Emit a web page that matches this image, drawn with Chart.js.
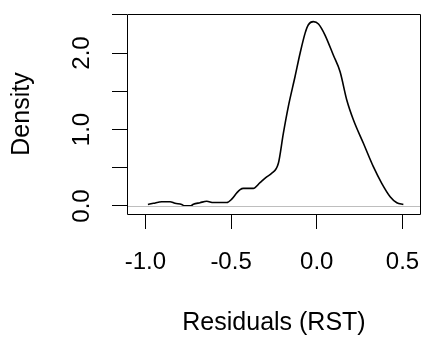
<!DOCTYPE html>
<html>
<head>
<meta charset="utf-8">
<script src="https://cdn.jsdelivr.net/npm/chart.js@4"></script>
<style>
  html, body { margin: 0; padding: 0; background: #fff; overflow: hidden; }
  #wrap { width: 422px; height: 342px; }
</style>
</head>
<body>
<div id="wrap"><canvas id="chart" width="422" height="342"></canvas></div>
<script>
// density of residuals
const residX = [-0.985, -0.953, -0.904, -0.856, -0.827, -0.788, -0.772, -0.735, -0.72, -0.681,
  -0.642, -0.603, -0.565, -0.525, -0.496, -0.467, -0.447, -0.428, -0.37, -0.331,
  -0.292, -0.263, -0.224, -0.195, -0.166, -0.127, -0.097, -0.068, -0.049, -0.02,
  0.01, 0.048, 0.097, 0.136, 0.175, 0.214, 0.272, 0.33, 0.379, 0.428, 0.467, 0.505]
const density = [0.02, 0.035, 0.056, 0.056, 0.035, 0.02, 0.003, 0.003, 0.022, 0.043,
  0.062, 0.045, 0.045, 0.045, 0.09, 0.17, 0.215, 0.23, 0.23, 0.305,
  0.38, 0.427, 0.558, 0.95, 1.3, 1.69, 2.0, 2.26, 2.37, 2.41,
  2.38, 2.235, 1.97, 1.755, 1.386, 1.124, 0.82, 0.514, 0.297, 0.122, 0.043, 0.02]

const xTicks = [-1, -0.5, 0, 0.5]
const yTicks = [0, 0.5, 1, 1.5, 2, 2.5]
const yLabels = [0, 1, 2]

const font = "'Liberation Sans', Arial, sans-serif"

// R style: box, gray zero line, rotated y labels
const rAxes = {
  id: "rAxes",
  afterDatasetsDraw(chart) {
    const { ctx, chartArea: a, scales: { y } } = chart
    ctx.save()
    const y0 = Math.round(y.getPixelForValue(0)) + 0.5
    ctx.strokeStyle = "#bebebe"
    ctx.lineWidth = 1
    ctx.beginPath()
    ctx.moveTo(a.left, y0)
    ctx.lineTo(a.right, y0)
    ctx.stroke()
    const l = 127.5, r = 420.5, t = 14.5, b = 214.5
    ctx.strokeStyle = "#000"
    ctx.beginPath()
    ctx.moveTo(l, t)
    ctx.lineTo(r, t)
    ctx.lineTo(r, b)
    ctx.lineTo(l, b)
    ctx.closePath()
    ctx.stroke()
    ctx.fillStyle = "#000"
    ctx.font = `24px ${font}`
    ctx.textAlign = "center"
    ctx.textBaseline = "alphabetic"
    yLabels.forEach((v) => {
      ctx.save()
      ctx.translate(89, y.getPixelForValue(v))
      ctx.rotate(-Math.PI / 2)
      ctx.fillText(v.toFixed(1), 0, 0)
      ctx.restore()
    })
    ctx.restore()
  },
}

new Chart(document.getElementById("chart"), {
  type: "scatter",
  data: {
    datasets: [
      {
        data: residX.map((v, i) => ({ x: v, y: density[i] })),
        showLine: true,
        borderColor: "#000",
        borderWidth: 1.6,
        pointRadius: 0,
        cubicInterpolationMode: "monotone",
      },
    ],
  },
  options: {
    responsive: false,
    animation: false,
    layout: { padding: { top: 14, right: 1, left: 0, bottom: 0 } },
    plugins: { legend: { display: false }, tooltip: { enabled: false } },
    scales: {
      x: {
        type: "linear",
        min: -1.107,
        max: 0.608,
        afterBuildTicks: (s) => { s.ticks = xTicks.map((value) => ({ value })) },
        afterFit: (s) => {
          s.height = 128
          s.paddingLeft = 0
          s.paddingRight = 0
        },
        border: { display: false },
        grid: { drawOnChartArea: false, drawTicks: true, tickLength: 15, color: "#000", lineWidth: 1 },
        ticks: {
          color: "#000",
          font: { family: font, size: 24 },
          padding: 19,
          maxRotation: 0,
          callback: (v) => v.toFixed(1),
        },
        title: {
          display: true,
          text: "Residuals (RST)",
          color: "#000",
          font: { family: font, size: 25 },
          padding: { top: 0, bottom: 4 },
        },
      },
      y: {
        type: "linear",
        min: -0.1046,
        max: 2.51,
        afterBuildTicks: (s) => { s.ticks = yTicks.map((value) => ({ value })) },
        afterFit: (s) => {
          s.width = 127
          s.paddingTop = 0
          s.paddingBottom = 0
        },
        border: { display: false },
        grid: { drawOnChartArea: false, drawTicks: true, tickLength: 15, color: "#000", lineWidth: 1 },
        ticks: { display: false },
        title: {
          display: true,
          text: "Density",
          color: "#000",
          font: { family: font, size: 25 },
          padding: { top: 7, bottom: 0 },
        },
      },
    },
  },
  plugins: [rAxes],
})
</script>
</body>
</html>
